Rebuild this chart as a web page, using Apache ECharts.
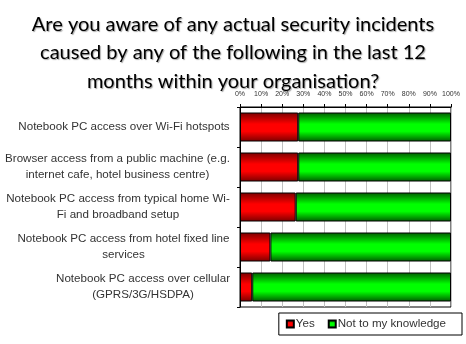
<!DOCTYPE html>
<html><head><meta charset="utf-8">
<script src="https://cdn.jsdelivr.net/npm/echarts@6/dist/echarts.min.js"></script>
<style>html,body{margin:0;padding:0;background:#fff}#c{width:466px;height:344px}</style>
</head><body><div id="c"></div>
<script>
var titleText = 'Are you aware of any actual security incidents\ncaused by any of the following in the last 12\nmonths within your organisation?';
var categories = [
  'Notebook PC access over Wi-Fi hotspots',
  'Browser access from a public machine (e.g.\ninternet cafe, hotel business centre)',
  'Notebook PC access from typical home Wi-\nFi and broadband setup',
  'Notebook PC access from hotel fixed line\nservices',
  'Notebook PC access over cellular\n(GPRS/3G/HSDPA)'
];
var yesValues = [27.6, 27.6, 26.4, 14.4, 5.8];
var notValues = [72.4, 72.4, 73.6, 85.6, 94.2];
var seriesNames = ['Yes', 'Not to my knowledge'];

var labelFamily = '"Liberation Sans", Arial, sans-serif';
var labelSize = 11.6;
var cv = document.createElement('canvas').getContext('2d');
cv.font = labelSize + 'px ' + labelFamily;
var rich = {};
categories.forEach(function (c, i) {
  var w = 0;
  c.split('\n').forEach(function (l) { w = Math.max(w, cv.measureText(l).width); });
  rich['r' + i] = { width: Math.ceil(w), align: 'center', fontSize: labelSize, fontFamily: labelFamily, color: '#333', lineHeight: 16 };
});

function grad(dark, mid) {
  return new echarts.graphic.LinearGradient(0, 0, 0, 1, [
    { offset: 0, color: dark }, { offset: 0.4, color: mid }, { offset: 0.65, color: mid }, { offset: 1, color: dark }
  ]);
}

var chart = echarts.init(document.getElementById('c'), null, { renderer: 'canvas' });
chart.setOption({
  animation: false,
  title: {
    text: titleText, left: 'center', top: 5,
    textStyle: { fontFamily: 'Lato, "Open Sans", sans-serif', fontSize: 20, fontWeight: 'normal', color: '#000', lineHeight: 28.5,
      textShadowColor: 'rgba(0,0,0,0.35)', textShadowOffsetX: 1, textShadowOffsetY: 1, textShadowBlur: 1 }
  },
  grid: { left: 240, right: 15, top: 107, height: 200, show: true, borderColor: '#000', borderWidth: 1, backgroundColor: '#fff' },
  xAxis: {
    type: 'value', position: 'top', min: 0, max: 100, interval: 10,
    axisLine: { show: true, lineStyle: { color: '#000', width: 1 } },
    axisTick: { show: true, length: 3, lineStyle: { color: '#000' } },
    axisLabel: { formatter: '{value}%', fontSize: 7, color: '#333', margin: 9, fontFamily: labelFamily },
    splitLine: { show: true, lineStyle: { color: '#c0c0c0', width: 1 } }
  },
  yAxis: {
    type: 'category', data: categories, inverse: true,
    axisLine: { show: true, lineStyle: { color: '#000', width: 1 } },
    axisTick: { show: true, length: 3, alignWithLabel: false, lineStyle: { color: '#000' } },
    axisLabel: {
      margin: 10,
      formatter: function (v, i) {
        return v.split('\n').map(function (l) { return '{r' + i + '|' + l + '}'; }).join('\n');
      },
      rich: rich
    }
  },
  legend: {
    data: seriesNames, right: 4, top: 313, orient: 'horizontal',
    borderColor: '#000', borderWidth: 1, padding: [5, 16, 5, 7],
    itemWidth: 7, itemHeight: 7, itemGap: 13, icon: 'rect',
    textStyle: { fontSize: 11.6, color: '#333', fontFamily: labelFamily, padding: [0, 0, 0, -3] }
  },
  series: [
    { name: seriesNames[0], type: 'bar', stack: 's', data: yesValues, barWidth: 29,
      itemStyle: { color: grad('#7a0000', '#ff0000'), borderColor: '#000', borderWidth: 1 } },
    { name: seriesNames[1], type: 'bar', stack: 's', data: notValues, barWidth: 29,
      itemStyle: { color: grad('#005a00', '#00ff00'), borderColor: '#000', borderWidth: 1 } }
  ]
});
</script></body></html>
